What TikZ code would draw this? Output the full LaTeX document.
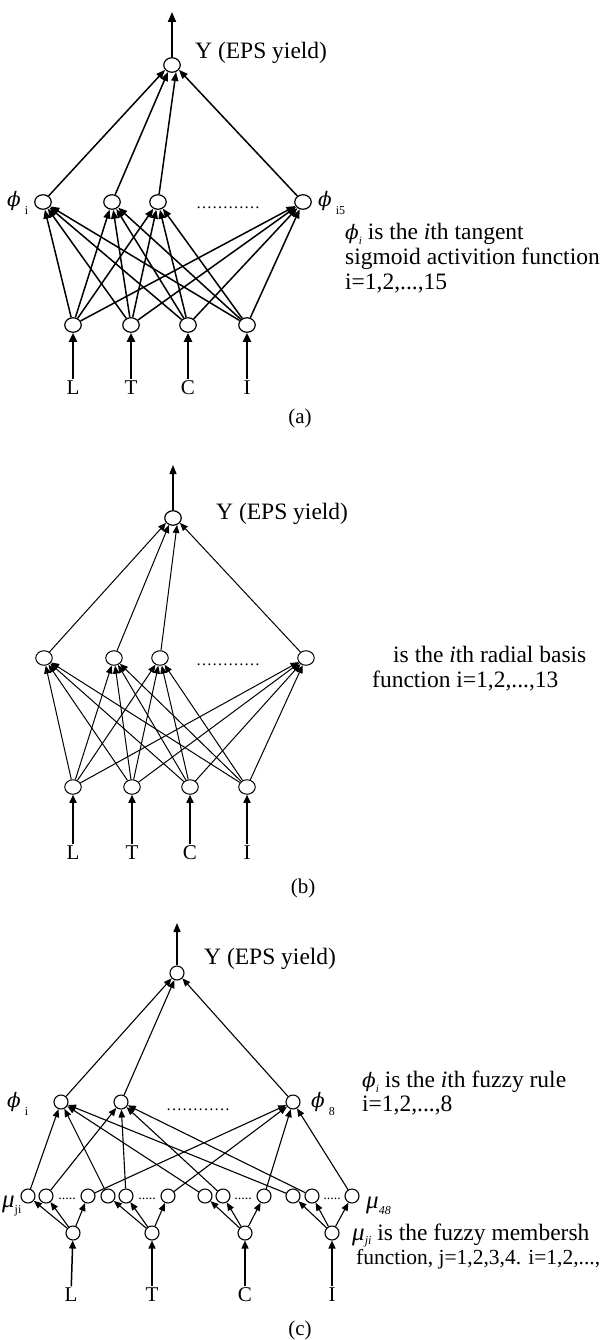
\documentclass[tikz,border=0pt]{standalone}
\usepackage{fontspec}
\setmainfont{Liberation Serif}
\newfontfamily\greekserif{DejaVu Serif}
\usetikzlibrary{arrows.meta,shapes.geometric}

% symbols with lowered subscripts, as set in the figure
\newcommand{\phig}[1]{{\greekserif\itshape\fontsize{#1}{#1}\selectfont ϕ}}
\newcommand{\nodephi}[1]{\phig{20}\hspace{4pt}\raisebox{-8pt}{\fontsize{12}{12}\selectfont #1}}
\newcommand{\textphi}{\phig{20}\raisebox{-5pt}{\fontsize{11}{11}\selectfont\itshape i}}
\newcommand{\nodemu}[2]{{\fontsize{25}{25}\selectfont\itshape μ}\raisebox{-6pt}{\fontsize{12}{12}\selectfont #1#2}}

\begin{document}
\begin{tikzpicture}[x=1pt,y=-1pt,
  neuron/.style={draw, ellipse, minimum width=16.5pt, minimum height=14.5pt, inner sep=0pt, line width=1.2pt},
  mnode/.style={draw, circle, minimum size=14pt, inner sep=0pt, line width=1.1pt},
  letter/.style={font=\fontsize{21}{21}\selectfont, inner sep=1.5pt},
  plabel/.style={font=\fontsize{21}{21}\selectfont, inner sep=0pt},
  ytext/.style={font=\fontsize{23.5}{23.5}\selectfont, anchor=west, inner sep=0pt},
  desc/.style={font=\fontsize{23.5}{23.5}\selectfont, anchor=base west, inner sep=0pt},
  dotsrow/.style={font=\fontsize{16}{16}\selectfont, anchor=base west, inner sep=0pt},
  mudots/.style={font=\fontsize{14}{14}\selectfont, anchor=base, inner sep=0pt},
  conA/.style={line width=1.5pt, -{Triangle[length=9pt,width=7pt]}},
  inA/.style={line width=2pt, -{Triangle[length=9pt,width=8pt]}},
  outA/.style={line width=2pt, -{Triangle[length=10pt,width=8pt]}},
  conB/.style={line width=1.0pt, -{Triangle[length=8pt,width=6.5pt]}},
  inB/.style={line width=1.6pt, -{Triangle[length=8pt,width=7pt]}},
  outB/.style={line width=1.4pt, -{Triangle[length=9pt,width=7pt]}},
  conC/.style={line width=1.1pt, -{Triangle[length=8pt,width=6.5pt]}},
  inC/.style={line width=1.5pt, -{Triangle[length=8pt,width=7pt]}},
  outC/.style={line width=1.4pt, -{Triangle[length=9pt,width=7pt]}}
]
\useasboundingbox[fill=white] (0,0) rectangle (607,1340);

% ================= (a) tangent sigmoid network =================
\node[neuron] (ya) at (172,65) {};
\coordinate (ya-out) at (172,12);
\draw[outA] (ya) -- (ya-out);
\node[ytext] (ya-lbl) at (195,53) {Y (EPS yield)};
\foreach \i/\x in {1/43,2/112,3/158,4/303} \node[neuron] (ha\i) at (\x,202) {};
\node[anchor=base west, inner sep=0pt] (ha-lbl1) at (7,207) {\nodephi{i}};
\node[anchor=base west, inner sep=0pt] (ha-lbl4) at (318,207) {\nodephi{i5}};
\node[dotsrow] (ha-dots) at (196,209) {…………};
\foreach \i/\x/\lab in {1/73/L,2/131/T,3/188/C,4/247/I} {
  \node[neuron] (ia\i) at (\x,325) {};
  \node[letter] (la\i) at (\x,388) {\lab};
  \draw[inA] (la\i) -- (ia\i);
}
\foreach \s in {1,...,4} \foreach \h in {1,...,4} \draw[conA] (ia\s) -- (ha\h);
\draw[conA] (ha1) -- (ya.215);
\draw[conA] (ha2) -- (ya.240);
\draw[conA] (ha3) -- (ya.300);
\draw[conA] (ha4) -- (ya.325);
\node[desc] (da1) at (345,240) {\textphi\ is the \textit{i}th tangent};
\node[desc] (da2) at (345,265) {sigmoid activition function};
\node[desc] (da3) at (345,289) {i=1,2,...,15};
\node[plabel] (cap-a) at (300,418) {(a)};

% ================= (b) radial basis network =================
\node[neuron] (yb) at (173,518) {};
\coordinate (yb-out) at (173,465);
\draw[outB] (yb) -- (yb-out);
\node[ytext] (yb-lbl) at (216,514) {Y (EPS yield)};
\foreach \i/\x in {1/44,2/114,3/160,4/306} \node[neuron, line width=1pt] (hb\i) at (\x,658) {};
\node[dotsrow] (hb-dots) at (196,665) {…………};
\foreach \i/\x/\lab in {1/73/L,2/132/T,3/190/C,4/247/I} {
  \node[neuron, line width=1pt] (ib\i) at (\x,787) {};
  \node[letter] (lb\i) at (\x,853) {\lab};
  \draw[inB] (lb\i) -- (ib\i);
}
\foreach \s in {1,...,4} \foreach \h in {1,...,4} \draw[conB] (ib\s) -- (hb\h);
\draw[conB] (hb1) -- (yb.215);
\draw[conB] (hb2) -- (yb.240);
\draw[conB] (hb3) -- (yb.300);
\draw[conB] (hb4) -- (yb.325);
\node[desc] (db1) at (393,662) {is the \textit{i}th radial basis};
\node[desc] (db2) at (372,687) {function i=1,2,...,13};
\node[plabel] (cap-b) at (303,888) {(b)};

% ================= (c) fuzzy network =================
\node[mnode] (yc) at (177,973) {};
\coordinate (yc-out) at (177,923);
\draw[outC] (yc) -- (yc-out);
\node[ytext] (yc-lbl) at (204,959) {Y (EPS yield)};
\foreach \i/\x in {1/61,2/121,3/293} \node[mnode] (hc\i) at (\x,1102) {};
\node[anchor=base west, inner sep=0pt] (hc-lbl1) at (7,1107) {\nodephi{i}};
\node[anchor=base west, inner sep=0pt] (hc-lbl3) at (311,1107) {\nodephi{8}};
\node[dotsrow] (hc-dots) at (166,1110) {…………};
% membership layer
\foreach \i/\x in {1/28,2/46,3/88,4/108,5/126,6/168,7/205,8/223,9/264,10/293,11/312,12/352}
  \node[mnode] (mu\i) at (\x,1196) {};
\foreach \x in {67,147,243,332} \node[mudots] at (\x,1199) {.....};
\node[anchor=base west, inner sep=0pt] (mu-lbl1) at (2,1207) {\nodemu{j}{i}};
\node[anchor=base west, inner sep=0pt] (mu-lbl12) at (366,1208) {\nodemu{\itshape 4}{\itshape 8}};
% inputs
\foreach \i/\x/\lx/\lab in {1/73/71/L,2/152/152/T,3/245/245/C,4/332/332/I} {
  \node[mnode] (ic\i) at (\x,1233) {};
  \node[letter] (lc\i) at (\lx,1295) {\lab};
  \draw[inC] (lc\i) -- (ic\i);
}
\foreach \g in {1,...,4} {
  \pgfmathtruncatemacro{\ma}{3*\g-2}
  \pgfmathtruncatemacro{\mb}{3*\g-1}
  \pgfmathtruncatemacro{\mc}{3*\g}
  \draw[conC] (ic\g) -- (mu\ma);
  \draw[conC] (ic\g) -- (mu\mb);
  \draw[conC] (ic\g) -- (mu\mc);
  \draw[conC] (mu\ma) -- (hc1);
  \draw[conC] (mu\mb) -- (hc2);
  \draw[conC] (mu\mc) -- (hc3);
}
\draw[conC] (hc1) -- (yc.225);
\draw[conC] (hc2) -- (yc.250);
\draw[conC] (hc3) -- (yc.-45);
\node[desc] (dc1) at (362,1087) {\textphi\ is the \textit{i}th fuzzy rule};
\node[desc] (dc2) at (362,1111) {i=1,2,...,8};
\node[desc] (dc3) at (352,1240) {{\fontsize{25}{25}\selectfont\itshape μ}\raisebox{-4pt}{\fontsize{12}{12}\selectfont\itshape ji} is the fuzzy membersh};
\node[desc, font=\fontsize{21.5}{21.5}\selectfont] (dc4) at (356,1264) {function, j=1,2,3,4. i=1,2,...,};
\node[plabel] (cap-c) at (300,1330) {(c)};
\end{tikzpicture}
\end{document}
